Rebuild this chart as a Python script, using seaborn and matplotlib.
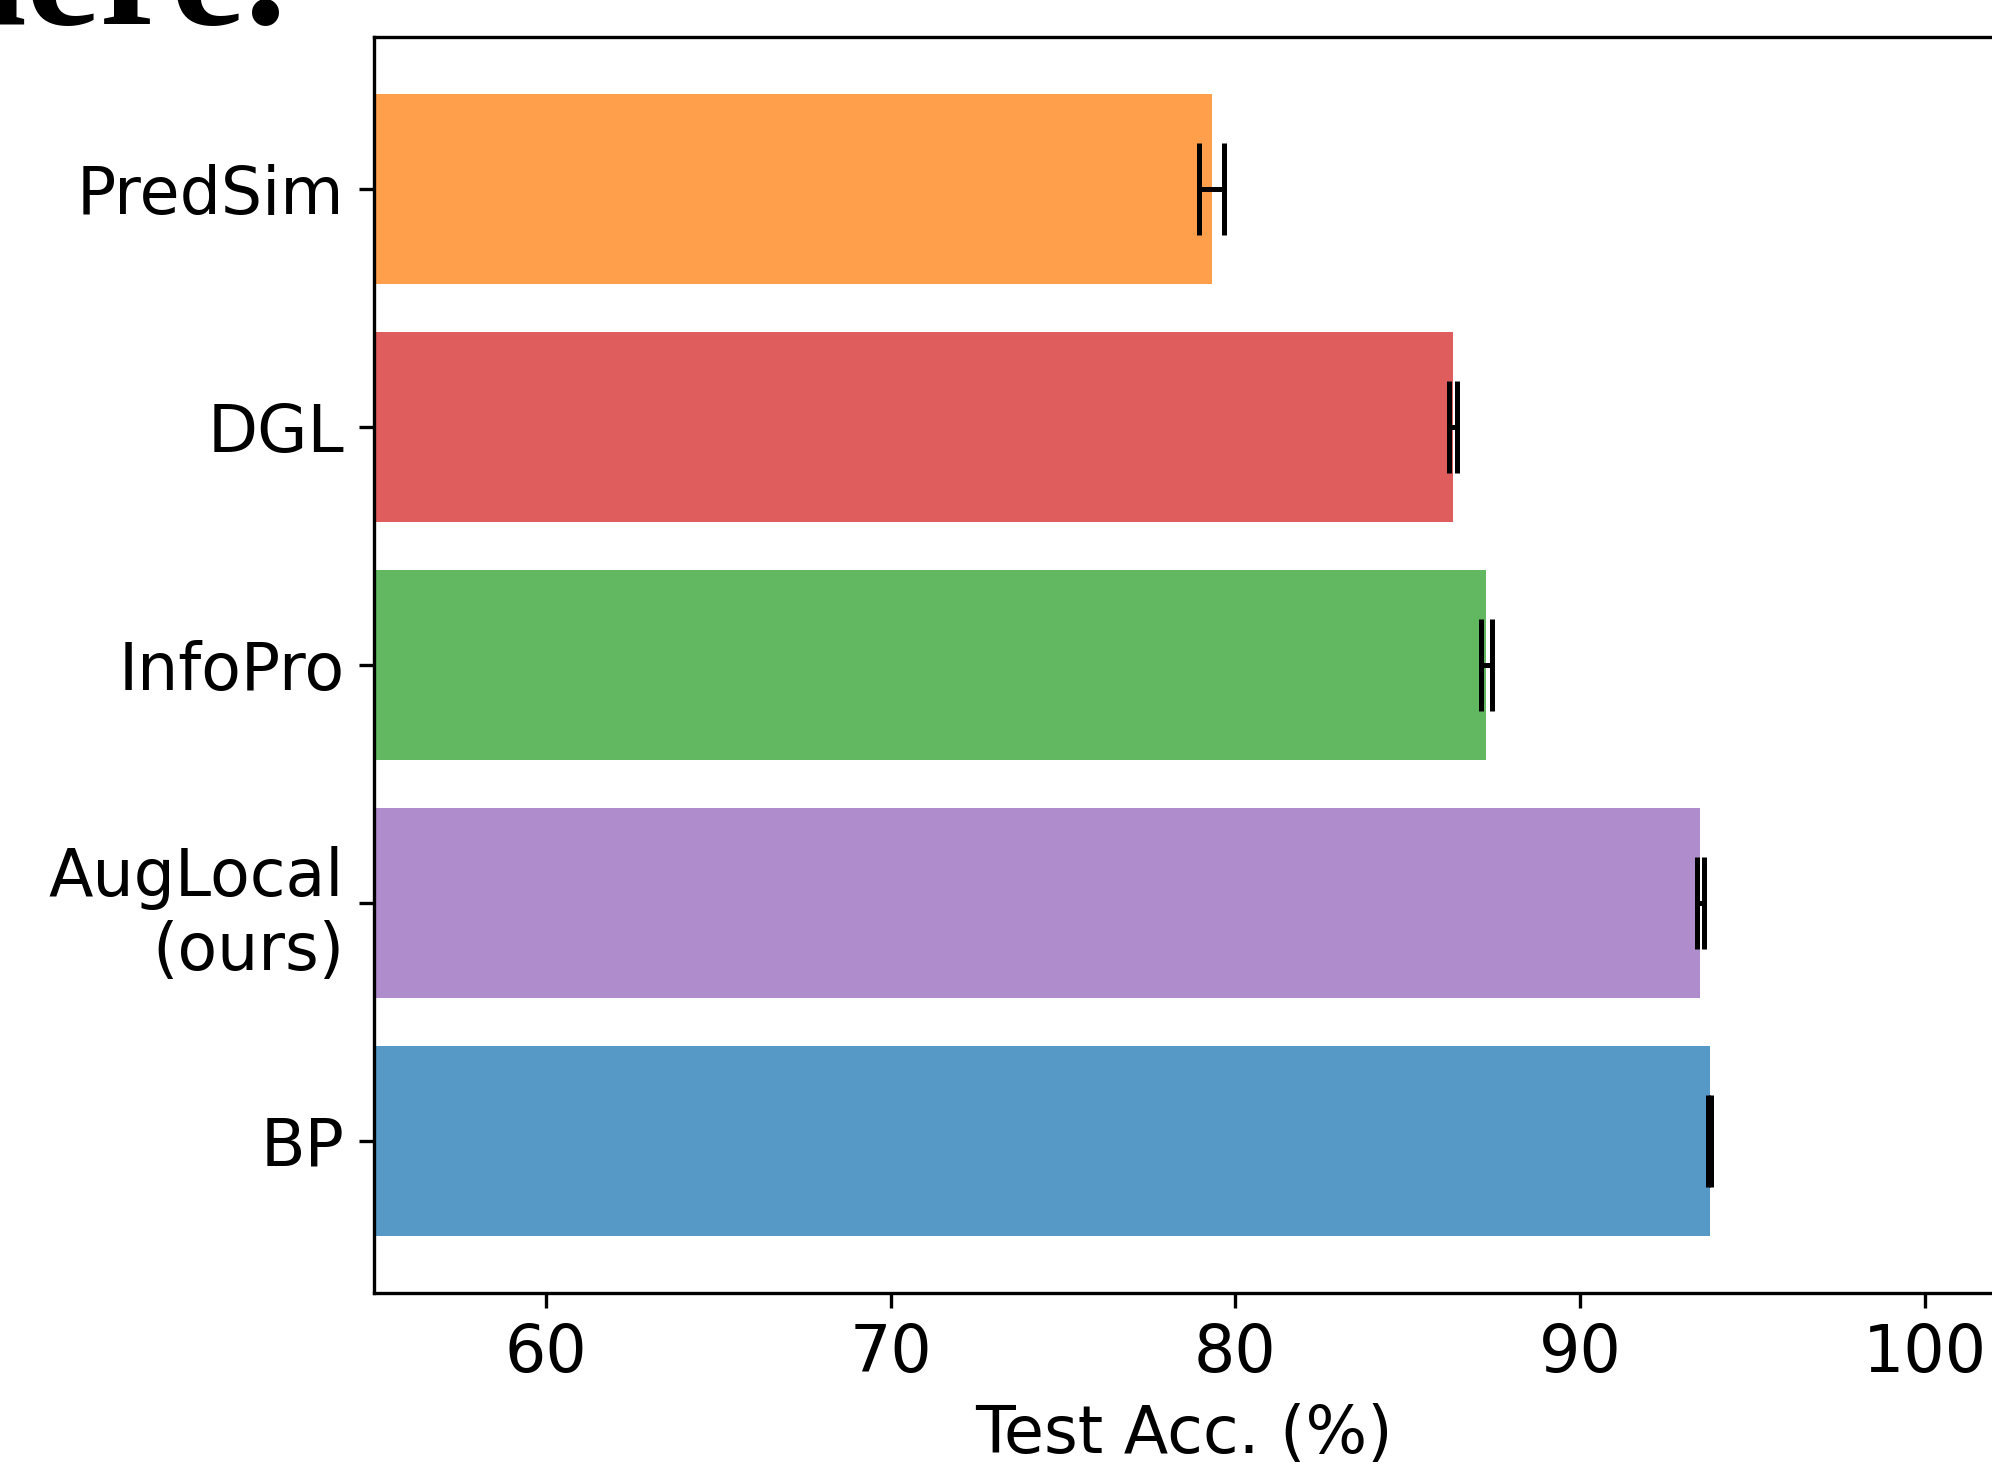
import matplotlib
matplotlib.use("Agg")
import matplotlib.pyplot as plt
import seaborn as sns
import pandas as pd

methods = ["PredSim", "DGL", "InfoPro", "AugLocal\n(ours)", "BP"]
acc = [79.31, 86.31, 87.28, 93.49, 93.76]
err = [0.37, 0.12, 0.16, 0.10, 0.05]
colors = ["#ff7f0e", "#d62728", "#2ca02c", "#9467bd", "#1f77b4"]
xticks = [60, 70, 80, 90, 100]

df = pd.DataFrame({"method": methods, "acc": acc})

plt.rcParams["font.family"] = ["DejaVu Sans"]
plt.rcParams["font.size"] = 15.6

fig = plt.figure(figsize=(1992 / 300, 1465 / 300), dpi=300)
ax = fig.add_axes([0.1875, 0.1174, 0.8134, 0.8573])

sns.barplot(data=df, x="acc", y="method", hue="method", palette=colors,
            order=methods, hue_order=methods, orient="h", errorbar=None,
            saturation=1, alpha=0.75, linewidth=0, width=0.8, legend=False, ax=ax)

ax.errorbar(acc, range(len(methods)), xerr=err, fmt="none", ecolor="black",
            elinewidth=1.2, capsize=11, capthick=1.2)

ax.set_xlim(55, 102)
ax.set_ylim(len(methods) - 0.36, -0.64)
ax.set_xticks(xticks)
ax.set_xticklabels([str(t) for t in xticks])
ax.set_xlabel("Test Acc. (%)", fontsize=15.6)
ax.set_ylabel("")
ax.tick_params(labelsize=15.6)

fig.text(287 / 1992, 1 - 24 / 1465, "here.", ha="right", va="baseline",
         fontsize=40, family=["Liberation Serif", "DejaVu Serif"], fontweight="bold")

fig.savefig("out.png", dpi=300)
